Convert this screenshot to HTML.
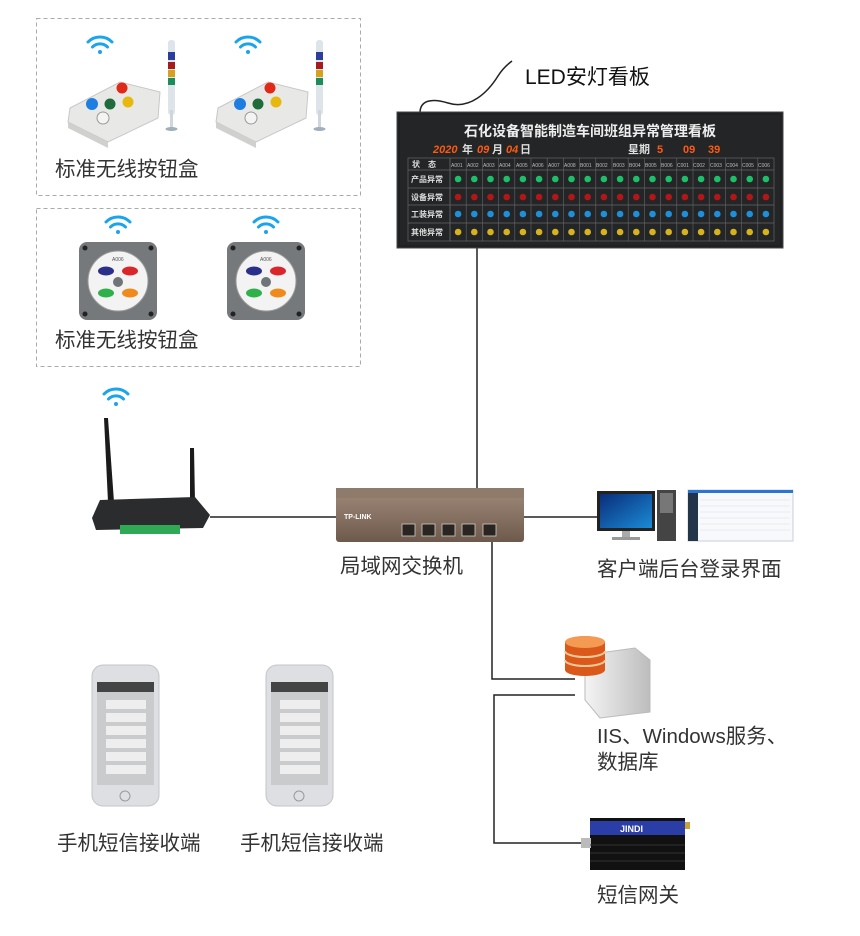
<!DOCTYPE html>
<html><head><meta charset="utf-8"><style>
html,body{margin:0;padding:0;background:#fff;}
body{width:860px;height:936px;position:relative;overflow:hidden;font-family:"Liberation Sans","Noto Sans CJK SC",sans-serif;}
.t{position:absolute;color:#333;font-size:20.5px;white-space:nowrap;line-height:1;}
svg{position:absolute;left:0;top:0;}
</style></head><body>
<svg width="860" height="936" viewBox="0 0 860 936">
<defs>
<linearGradient id="sw" x1="0" y1="0" x2="0" y2="1"><stop offset="0" stop-color="#a08a7a"/><stop offset="1" stop-color="#6e5a4c"/></linearGradient>
<linearGradient id="srv" x1="0" y1="0" x2="1" y2="0"><stop offset="0" stop-color="#f4f4f4"/><stop offset="1" stop-color="#bdbdbd"/></linearGradient>
<linearGradient id="scr" x1="0" y1="0" x2="1" y2="1"><stop offset="0" stop-color="#0a2d7a"/><stop offset="1" stop-color="#1b8bd6"/></linearGradient>
<g id="wifi" fill="none" stroke="#19a4ee" stroke-width="3" stroke-linecap="round"><path d="M-12,-4 A17,17 0 0 1 12,-4"/><path d="M-7.5,1 A10.5,10.5 0 0 1 7.5,1"/><circle cx="0" cy="6" r="2" fill="#19a4ee" stroke="none"/></g>
</defs>
<rect x="36.5" y="18.5" width="324" height="177" fill="none" stroke="#aaa" stroke-dasharray="4,3"/>
<rect x="36.5" y="208.5" width="324" height="158" fill="none" stroke="#aaa" stroke-dasharray="4,3"/>
<g stroke="#222" stroke-width="1.5" fill="none">
<line x1="477" y1="248" x2="477" y2="490"/>
<line x1="210" y1="517" x2="337" y2="517"/>
<line x1="524" y1="517" x2="598" y2="517"/>
<polyline points="492,542 492,679 575,679"/>
<polyline points="575,695 494,695 494,843 585,843"/>
<path d="M420,113 C420,100 432,98 448,103 C470,110 488,92 498,76 C503,68 508,64 512,61"/>
</g>
<g id="bb">
<use href="#wifi" x="100" y="46"/>
<path d="M70,108 L120,82 L160,92 L158,118 L108,142 L68,122 Z" fill="#e8e8e6" stroke="#c8c8c8"/>
<path d="M68,122 L108,142 L108,148 L68,128Z" fill="#d0d0ce"/>
<circle cx="92" cy="104" r="6" fill="#1d7de0"/><circle cx="110" cy="104" r="5.5" fill="#1f6b3c"/><circle cx="128" cy="102" r="5.5" fill="#e7b80e"/><circle cx="122" cy="88" r="5.5" fill="#e02a17"/><circle cx="103" cy="118" r="6" fill="#f4f4f4" stroke="#999"/>
<rect x="168" y="40" width="7" height="75" rx="3" fill="#dde4ea"/>
<rect x="168" y="52" width="7" height="8" fill="#2a3e9a"/><rect x="168" y="62" width="7" height="7" fill="#a51b1b"/><rect x="168" y="70" width="7" height="7" fill="#d7a21b"/><rect x="168" y="78" width="7" height="7" fill="#1e8b5a"/>
<rect x="170" y="110" width="3" height="18" fill="#cfd6dc"/><ellipse cx="171.5" cy="129" rx="6" ry="2" fill="#9fb0bb"/>
</g>
<use href="#bb" x="148" y="0"/>
<g id="sq">
<use href="#wifi" x="118" y="226"/>
<rect x="79" y="242" width="78" height="78" rx="8" fill="#75797b"/>
<circle cx="118" cy="281" r="30" fill="#f3f3f3" stroke="#9a9a9a"/>
<ellipse cx="106" cy="271" rx="8" ry="4.5" fill="#2a2f8a"/><ellipse cx="130" cy="271" rx="8" ry="4.5" fill="#d9262b"/>
<ellipse cx="106" cy="293" rx="8" ry="4.5" fill="#2eb14a"/><ellipse cx="130" cy="293" rx="8" ry="4.5" fill="#f08a1c"/>
<circle cx="118" cy="282" r="5" fill="#6e7478"/>
<text x="112" y="261" font-size="5" fill="#555" font-family="Liberation Sans">A006</text>
<g fill="#222"><circle cx="85" cy="248" r="2.5"/><circle cx="151" cy="248" r="2.5"/><circle cx="85" cy="314" r="2.5"/><circle cx="151" cy="314" r="2.5"/></g>
</g>
<use href="#sq" x="148" y="0"/>
<rect x="397" y="112" width="386" height="136" fill="#1e2022" stroke="#444"/>
<rect x="400" y="115" width="380" height="130" fill="#232527"/>
<text x="590" y="136" text-anchor="middle" font-size="14" font-weight="bold" fill="#eee" font-family="Liberation Sans,'Noto Sans CJK SC',sans-serif">石化设备智能制造车间班组异常管理看板</text>
<g font-family="Liberation Sans,'Noto Sans CJK SC',sans-serif" font-size="11" font-weight="bold">
<text x="433" y="153" fill="#ff5a10" font-style="italic">2020</text><text x="462" y="153" fill="#ddd">年</text>
<text x="477" y="153" fill="#ff5a10" font-style="italic">09</text><text x="492" y="153" fill="#ddd">月</text>
<text x="506" y="153" fill="#ff5a10" font-style="italic">04</text><text x="520" y="153" fill="#ddd">日</text>
<text x="628" y="153" fill="#ddd">星期</text><text x="657" y="153" fill="#ff5a10">5</text>
<text x="683" y="153" fill="#ff5a10">09</text><text x="708" y="153" fill="#ff5a10">39</text>
</g>
<g stroke="#666" stroke-width="0.7" fill="none">
<rect x="408" y="158" width="366" height="83"/>
<line x1="408" y1="170" x2="774" y2="170"/><line x1="408" y1="188" x2="774" y2="188"/><line x1="408" y1="205" x2="774" y2="205"/><line x1="408" y1="223" x2="774" y2="223"/>
<line x1="450" y1="158" x2="450" y2="241"/>
</g>
<g id="cols"></g>
<g font-family="Liberation Sans,'Noto Sans CJK SC',sans-serif" font-size="8" font-weight="bold" fill="#ddd">
<text x="412" y="167">状　态</text><text x="411" y="182">产品异常</text><text x="411" y="200">设备异常</text><text x="411" y="217">工装异常</text><text x="411" y="235">其他异常</text>
</g>
<g font-size="5" fill="#bbb" font-family="Liberation Sans">
<text x="451" y="167">A001</text><text x="467" y="167">A002</text><text x="483" y="167">A003</text><text x="499" y="167">A004</text><text x="516" y="167">A005</text><text x="532" y="167">A006</text><text x="548" y="167">A007</text><text x="564" y="167">A008</text><text x="580" y="167">B001</text><text x="596" y="167">B002</text><text x="613" y="167">B003</text><text x="629" y="167">B004</text><text x="645" y="167">B005</text><text x="661" y="167">B006</text><text x="677" y="167">C001</text><text x="693" y="167">C002</text><text x="710" y="167">C003</text><text x="726" y="167">C004</text><text x="742" y="167">C005</text><text x="758" y="167">C006</text>
</g>
<g id="leds"></g>
<use href="#wifi" x="116" y="398"/>
<path d="M104,418 L108,418 L114,502 L108,502Z" fill="#1b1b1b"/>
<path d="M190,448 L194,448 L195,502 L190,502Z" fill="#1b1b1b"/>
<path d="M100,500 L195,497 L210,515 L203,528 L96,530 L92,518Z" fill="#2a2c2e"/>
<rect x="120" y="525" width="60" height="9" fill="#2eaa55"/>
<rect x="336" y="488" width="188" height="54" rx="3" fill="url(#sw)"/>
<rect x="336" y="488" width="188" height="10" fill="#8f7b6c"/>
<text x="344" y="519" font-size="7" font-weight="bold" fill="#fff" font-family="Liberation Sans">TP-LINK</text>
<g fill="#2b2522" stroke="#ccc" stroke-width="0.8"><rect x="402" y="524" width="13" height="12"/><rect x="422" y="524" width="13" height="12"/><rect x="442" y="524" width="13" height="12"/><rect x="462" y="524" width="13" height="12"/><rect x="483" y="524" width="13" height="12"/></g>
<rect x="597" y="491" width="58" height="40" fill="#222"/><rect x="600" y="494" width="52" height="34" fill="url(#scr)"/>
<rect x="622" y="531" width="8" height="6" fill="#aaa"/><rect x="612" y="537" width="28" height="3" fill="#999"/>
<rect x="657" y="490" width="19" height="51" fill="#444"/><rect x="660" y="493" width="13" height="20" fill="#777"/>
<rect x="688" y="490" width="105" height="51" fill="#f7f9fb" stroke="#ccd"/><rect x="688" y="490" width="10" height="51" fill="#233548"/><rect x="688" y="490" width="105" height="3" fill="#2a76d2"/>
<g stroke="#dde" stroke-width="0.6"><line x1="700" y1="500" x2="790" y2="500"/><line x1="700" y1="506" x2="790" y2="506"/><line x1="700" y1="512" x2="790" y2="512"/><line x1="700" y1="518" x2="790" y2="518"/><line x1="700" y1="524" x2="790" y2="524"/><line x1="700" y1="530" x2="790" y2="530"/></g>
<path d="M585,655 L635,648 L650,660 L650,712 L600,718 L585,700Z" fill="url(#srv)" stroke="#bbb"/>
<g><ellipse cx="585" cy="642" rx="20" ry="6" fill="#f18a3a"/><rect x="565" y="642" width="40" height="28" fill="#d9581a"/><ellipse cx="585" cy="670" rx="20" ry="6" fill="#d9581a"/>
<path d="M565,651 A20,6 0 0 0 605,651 M565,660 A20,6 0 0 0 605,660" stroke="#f6c79a" stroke-width="2" fill="none"/><ellipse cx="585" cy="642" rx="20" ry="6" fill="#f49a52"/></g>
<rect x="590" y="818" width="95" height="52" fill="#111"/>
<rect x="590" y="821" width="95" height="14" fill="#2b3ea8"/>
<text x="620" y="832" font-size="9" font-weight="bold" fill="#fff" font-family="Liberation Sans">JINDI</text>
<rect x="581" y="838" width="10" height="10" fill="#bbb"/><rect x="685" y="822" width="5" height="7" fill="#c9a23a"/>
<g stroke="#333" stroke-width="1"><line x1="590" y1="845" x2="685" y2="845"/><line x1="590" y1="853" x2="685" y2="853"/><line x1="590" y1="861" x2="685" y2="861"/></g>
<g id="ph">
<rect x="92" y="665" width="67" height="141" rx="11" fill="#dedfe2" stroke="#c3c5c8"/>
<rect x="97" y="682" width="57" height="103" fill="#c9cbcd"/><rect x="97" y="682" width="57" height="10" fill="#444"/>
<g fill="#eee"><rect x="106" y="700" width="40" height="9"/><rect x="106" y="713" width="40" height="9"/><rect x="106" y="726" width="40" height="9"/><rect x="106" y="739" width="40" height="9"/><rect x="106" y="752" width="40" height="9"/><rect x="106" y="765" width="40" height="9"/></g>
<circle cx="125" cy="796" r="5" fill="none" stroke="#999"/>
</g>
<use href="#ph" x="174" y="0"/>
</svg>
<div class="t" style="left:525px;top:67px;font-size:21px;color:#111">LED安灯看板</div>
<div class="t" style="left:55px;top:160px;">标准无线按钮盒</div>
<div class="t" style="left:55px;top:331px;">标准无线按钮盒</div>
<div class="t" style="left:340px;top:557px;">局域网交换机</div>
<div class="t" style="left:597px;top:560px;">客户端后台登录界面</div>
<div class="t" style="left:597px;top:727px;">IIS、Windows服务、</div>
<div class="t" style="left:597px;top:753px;">数据库</div>
<div class="t" style="left:597px;top:886px;">短信网关</div>
<div class="t" style="left:57px;top:834px;">手机短信接收端</div>
<div class="t" style="left:240px;top:834px;">手机短信接收端</div>
<script>
var ns="http://www.w3.org/2000/svg",g=document.getElementById('leds'),c=document.getElementById('cols');
var cols=['#1fbf6a','#b01818','#1e8fd8','#d6b21e'],ys=[179,197,214,232];
for(var i=0;i<20;i++){var x=450+i*16.2;
 var l=document.createElementNS(ns,'line');l.setAttribute('x1',x);l.setAttribute('x2',x);l.setAttribute('y1',158);l.setAttribute('y2',241);l.setAttribute('stroke','#666');l.setAttribute('stroke-width','0.6');c.appendChild(l);
 for(var r=0;r<4;r++){var ci=document.createElementNS(ns,'circle');ci.setAttribute('cx',x+8.1);ci.setAttribute('cy',ys[r]);ci.setAttribute('r',3.3);ci.setAttribute('fill',cols[r]);g.appendChild(ci);}}
</script>
</body></html>
